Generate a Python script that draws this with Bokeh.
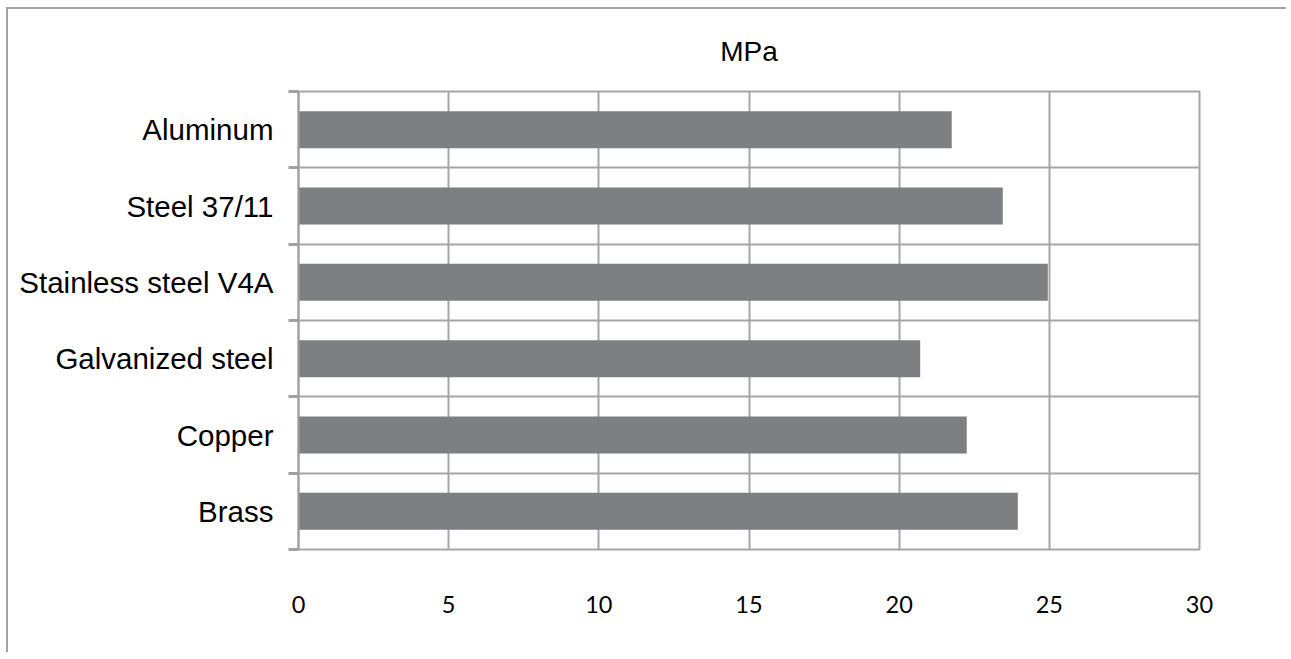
from bokeh.plotting import figure
from bokeh.models import FixedTicker, Range1d, ColumnDataSource
from bokeh.embed import file_html
from bokeh.resources import INLINE

# ---- data (top to bottom as shown) ----
materials = ["Aluminum", "Steel 37/11", "Stainless steel V4A", "Galvanized steel", "Copper", "Brass"]
mpa = [21.75, 23.45, 24.95, 20.7, 22.25, 23.95]
x_ticks = [0, 5, 10, 15, 20, 25, 30]
title_text = "MPa"

n = len(materials)
ypos = [n - i - 0.5 for i in range(n)]
src = ColumnDataSource(dict(y=ypos, right=mpa, name=materials))

GRID = "#a6a6a6"
AX = "#a0a0a0"

p = figure(width=1280, height=645, output_backend="svg", toolbar_location=None,
           x_range=Range1d(x_ticks[0], x_ticks[-1]), y_range=Range1d(0, n),
           min_border_left=290, min_border_right=89, min_border_top=82, min_border_bottom=105)
p.styles = {"border-top": "2px solid #a3a3a3", "border-left": "2px solid #a3a3a3",
            "margin-top": "7px", "margin-left": "6px"}

p.hbar(y="y", left=0, right="right", height=0.485, source=src,
       fill_color="#7e7f83", line_color=None)

# title
p.title.text = title_text
p.title.align = "center"
p.title.text_font = "Liberation Sans"
p.title.text_font_size = "28px"
p.title.text_font_style = "normal"
p.title.text_color = "black"
p.title.standoff = 49

# y axis: labels at category centres, ticks at boundaries
yax = p.yaxis[0]
yax.ticker = FixedTicker(ticks=ypos, minor_ticks=list(range(n + 1)))
yax.major_label_overrides = {y: name for y, name in zip(ypos, materials)}
yax.major_tick_in = 0
yax.major_tick_out = 0
yax.minor_tick_in = 0
yax.minor_tick_out = 10
yax.minor_tick_line_color = AX
yax.minor_tick_line_width = 3
yax.axis_line_color = AX
yax.axis_line_width = 2
yax.major_label_text_font = "Liberation Sans"
yax.major_label_text_font_size = "29.5px"
yax.major_label_text_color = "black"
yax.major_label_standoff = 15

# x axis
xax = p.xaxis[0]
xax.ticker = FixedTicker(ticks=x_ticks)
xax.axis_line_color = None
xax.major_tick_line_color = None
xax.minor_tick_line_color = None
xax.major_label_text_font = "Lato"
xax.major_label_text_font_size = "23.5px"
xax.major_label_text_color = "black"
xax.major_label_standoff = 40

# grids
p.xgrid[0].ticker = FixedTicker(ticks=x_ticks)
p.xgrid[0].grid_line_color = GRID
p.xgrid[0].grid_line_width = 2
p.ygrid[0].ticker = FixedTicker(ticks=list(range(n + 1)))
p.ygrid[0].grid_line_color = GRID
p.ygrid[0].grid_line_width = 2

p.outline_line_color = GRID
p.outline_line_width = 2
p.background_fill_color = "white"
p.border_fill_color = "white"

open("out.html", "w").write(file_html(p, INLINE))
